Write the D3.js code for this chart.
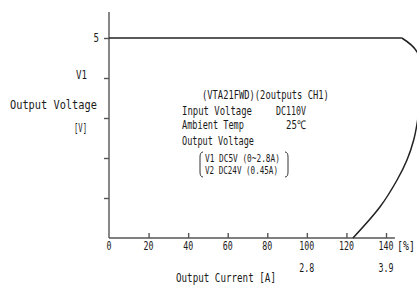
<!DOCTYPE html>
<html><head><meta charset="utf-8">
<script src="https://cdn.jsdelivr.net/npm/d3@7"></script>
<style>
html,body{margin:0;padding:0;background:#fff;}
svg{display:block;}
text{font-family:"DejaVu Sans Mono","Liberation Mono",monospace;fill:#1a1a1a;}
</style></head>
<body>
<script>
// ---- data ----
const pctTicks = [20, 40, 60, 80, 100, 120, 140];
const pctLabels = [0, 20, 40, 60, 80, 100, 120, 140];
const ampTicks = [100, 140];
const ampLabels = ["2.8", "3.9"];
const voltTicks = [1, 2, 3, 4, 5];
const voltLabels = ["", "", "", "", "5"];
// output current [%] vs output voltage [V]: flat part, then fold-back
const flatPct = [0, 148];
const flatVolt = [5, 5];
const foldPct = [148, 155.7, 158, 156, 154, 150.6, 145.6, 137, 123.3];
const foldVolt = [5, 4.65, 3.8, 2.95, 2.45, 1.95, 1.45, 0.78, 0];
const infoLines = ["(VTA21FWD)(2outputs CH1)", "Input Voltage", "Ambient Temp", "Output Voltage"];
const infoValues = ["DC110V", "25℃"];
const outputLines = ["V1 DC5V (0~2.8A)", "V2 DC24V (0.45A)"];

const W = 417, H = 298;
const svg = d3.select("body").append("svg").attr("width", W).attr("height", H);

const x = d3.scaleLinear().domain([0, 140]).range([109, 386]);
const y = d3.scaleLinear().domain([0, 5]).range([238, 38]);

const axisColor = "#555";

// text helper: horizontally condensed to a given width (real text)
function label(parent, str, px, py, size, width, anchor) {
  const t = parent.append("text").attr("font-size", size).text(str);
  const nat = t.node().getComputedTextLength();
  const s = width / nat;
  const ox = anchor === "middle" ? -width / 2 : anchor === "end" ? -width : 0;
  t.attr("transform", `translate(${px + ox},${py}) scale(${s},1)`);
  return t;
}

// axis lines
svg.append("line").attr("x1", x(0)).attr("x2", x(144.5)).attr("y1", y(0)).attr("y2", y(0))
  .attr("stroke", axisColor).attr("stroke-width", 1.4);
svg.append("line").attr("x1", x(0)).attr("x2", x(0)).attr("y1", y(0)).attr("y2", y(5.65))
  .attr("stroke", axisColor).attr("stroke-width", 1.4);

// y ticks
const yAxis = d3.axisLeft(y).tickValues(voltTicks).tickSize(5).tickFormat(() => "");
const gy = svg.append("g").attr("transform", `translate(${x(0)},0)`).call(yAxis);
gy.select(".domain").remove();
gy.selectAll(".tick line").attr("stroke", axisColor).attr("stroke-width", 1.4);
voltTicks.forEach((v, i) => {
  if (voltLabels[i]) label(svg, voltLabels[i], x(0) - 10, y(v) + 4, 12, 5.5, "end");
});

// x ticks (inward)
const xAxis = d3.axisBottom(x).tickValues(pctTicks).tickSize(-5).tickFormat("");
const gx = svg.append("g").attr("transform", `translate(0,${y(0)})`).call(xAxis);
gx.select(".domain").remove();
gx.selectAll(".tick line").attr("stroke", axisColor).attr("stroke-width", 1.4);

// x percent labels
const gpl = svg.append("g");
pctLabels.forEach(d => label(gpl, String(d), x(d), y(0) + 12, 12, String(d).length * 5, "middle"));
label(svg, "[%]", 397, y(0) + 12, 12, 18, "start");

// ampere labels
ampTicks.forEach((d, i) => label(svg, ampLabels[i], x(d), y(0) + 34, 12, 15, "middle"));

// axis titles
label(svg, "Output Current [A]", 176, 282, 13, 100, "start");
label(svg, "V1", 76, 79, 12, 11, "start");
label(svg, "Output Voltage", 10, 109, 13, 87, "start");
label(svg, "[V]", 74, 132, 12, 13, "start");

// curve
const lineFlat = d3.line().x(d => x(d[0])).y(d => y(d[1]));
const lineFold = d3.line().x(d => x(d[0])).y(d => y(d[1])).curve(d3.curveCatmullRom.alpha(0.5));
svg.append("path").attr("d", lineFlat(flatPct.map((p, i) => [p, flatVolt[i]])))
  .attr("fill", "none").attr("stroke", "#222").attr("stroke-width", 1.5);
svg.append("path").attr("d", lineFold(foldPct.map((p, i) => [p, foldVolt[i]])))
  .attr("fill", "none").attr("stroke", "#222").attr("stroke-width", 1.5);

// info block
const info = svg.append("g");
label(info, infoLines[0], 202, 99, 12, 127, "start");
label(info, infoLines[1], 182, 115, 12, 70, "start");
label(info, infoValues[0], 276, 115, 12, 30, "start");
label(info, infoLines[2], 182, 129, 12, 62, "start");
label(info, infoValues[1], 286, 129, 12, 20, "start");
label(info, infoLines[3], 182, 145, 12, 72, "start");
outputLines.forEach((d, i) => label(info, d, 205, 162 + i * 12, 11, i === 0 ? 75 : 73, "start"));

// brackets
svg.append("path").attr("d", "M203,152 Q200,152 200,157 L200,172 Q200,177 203,177")
  .attr("fill", "none").attr("stroke", "#333").attr("stroke-width", 1);
svg.append("path").attr("d", "M285,152 Q288,152 288,157 L288,172 Q288,177 285,177")
  .attr("fill", "none").attr("stroke", "#333").attr("stroke-width", 1);
</script>
</body></html>
